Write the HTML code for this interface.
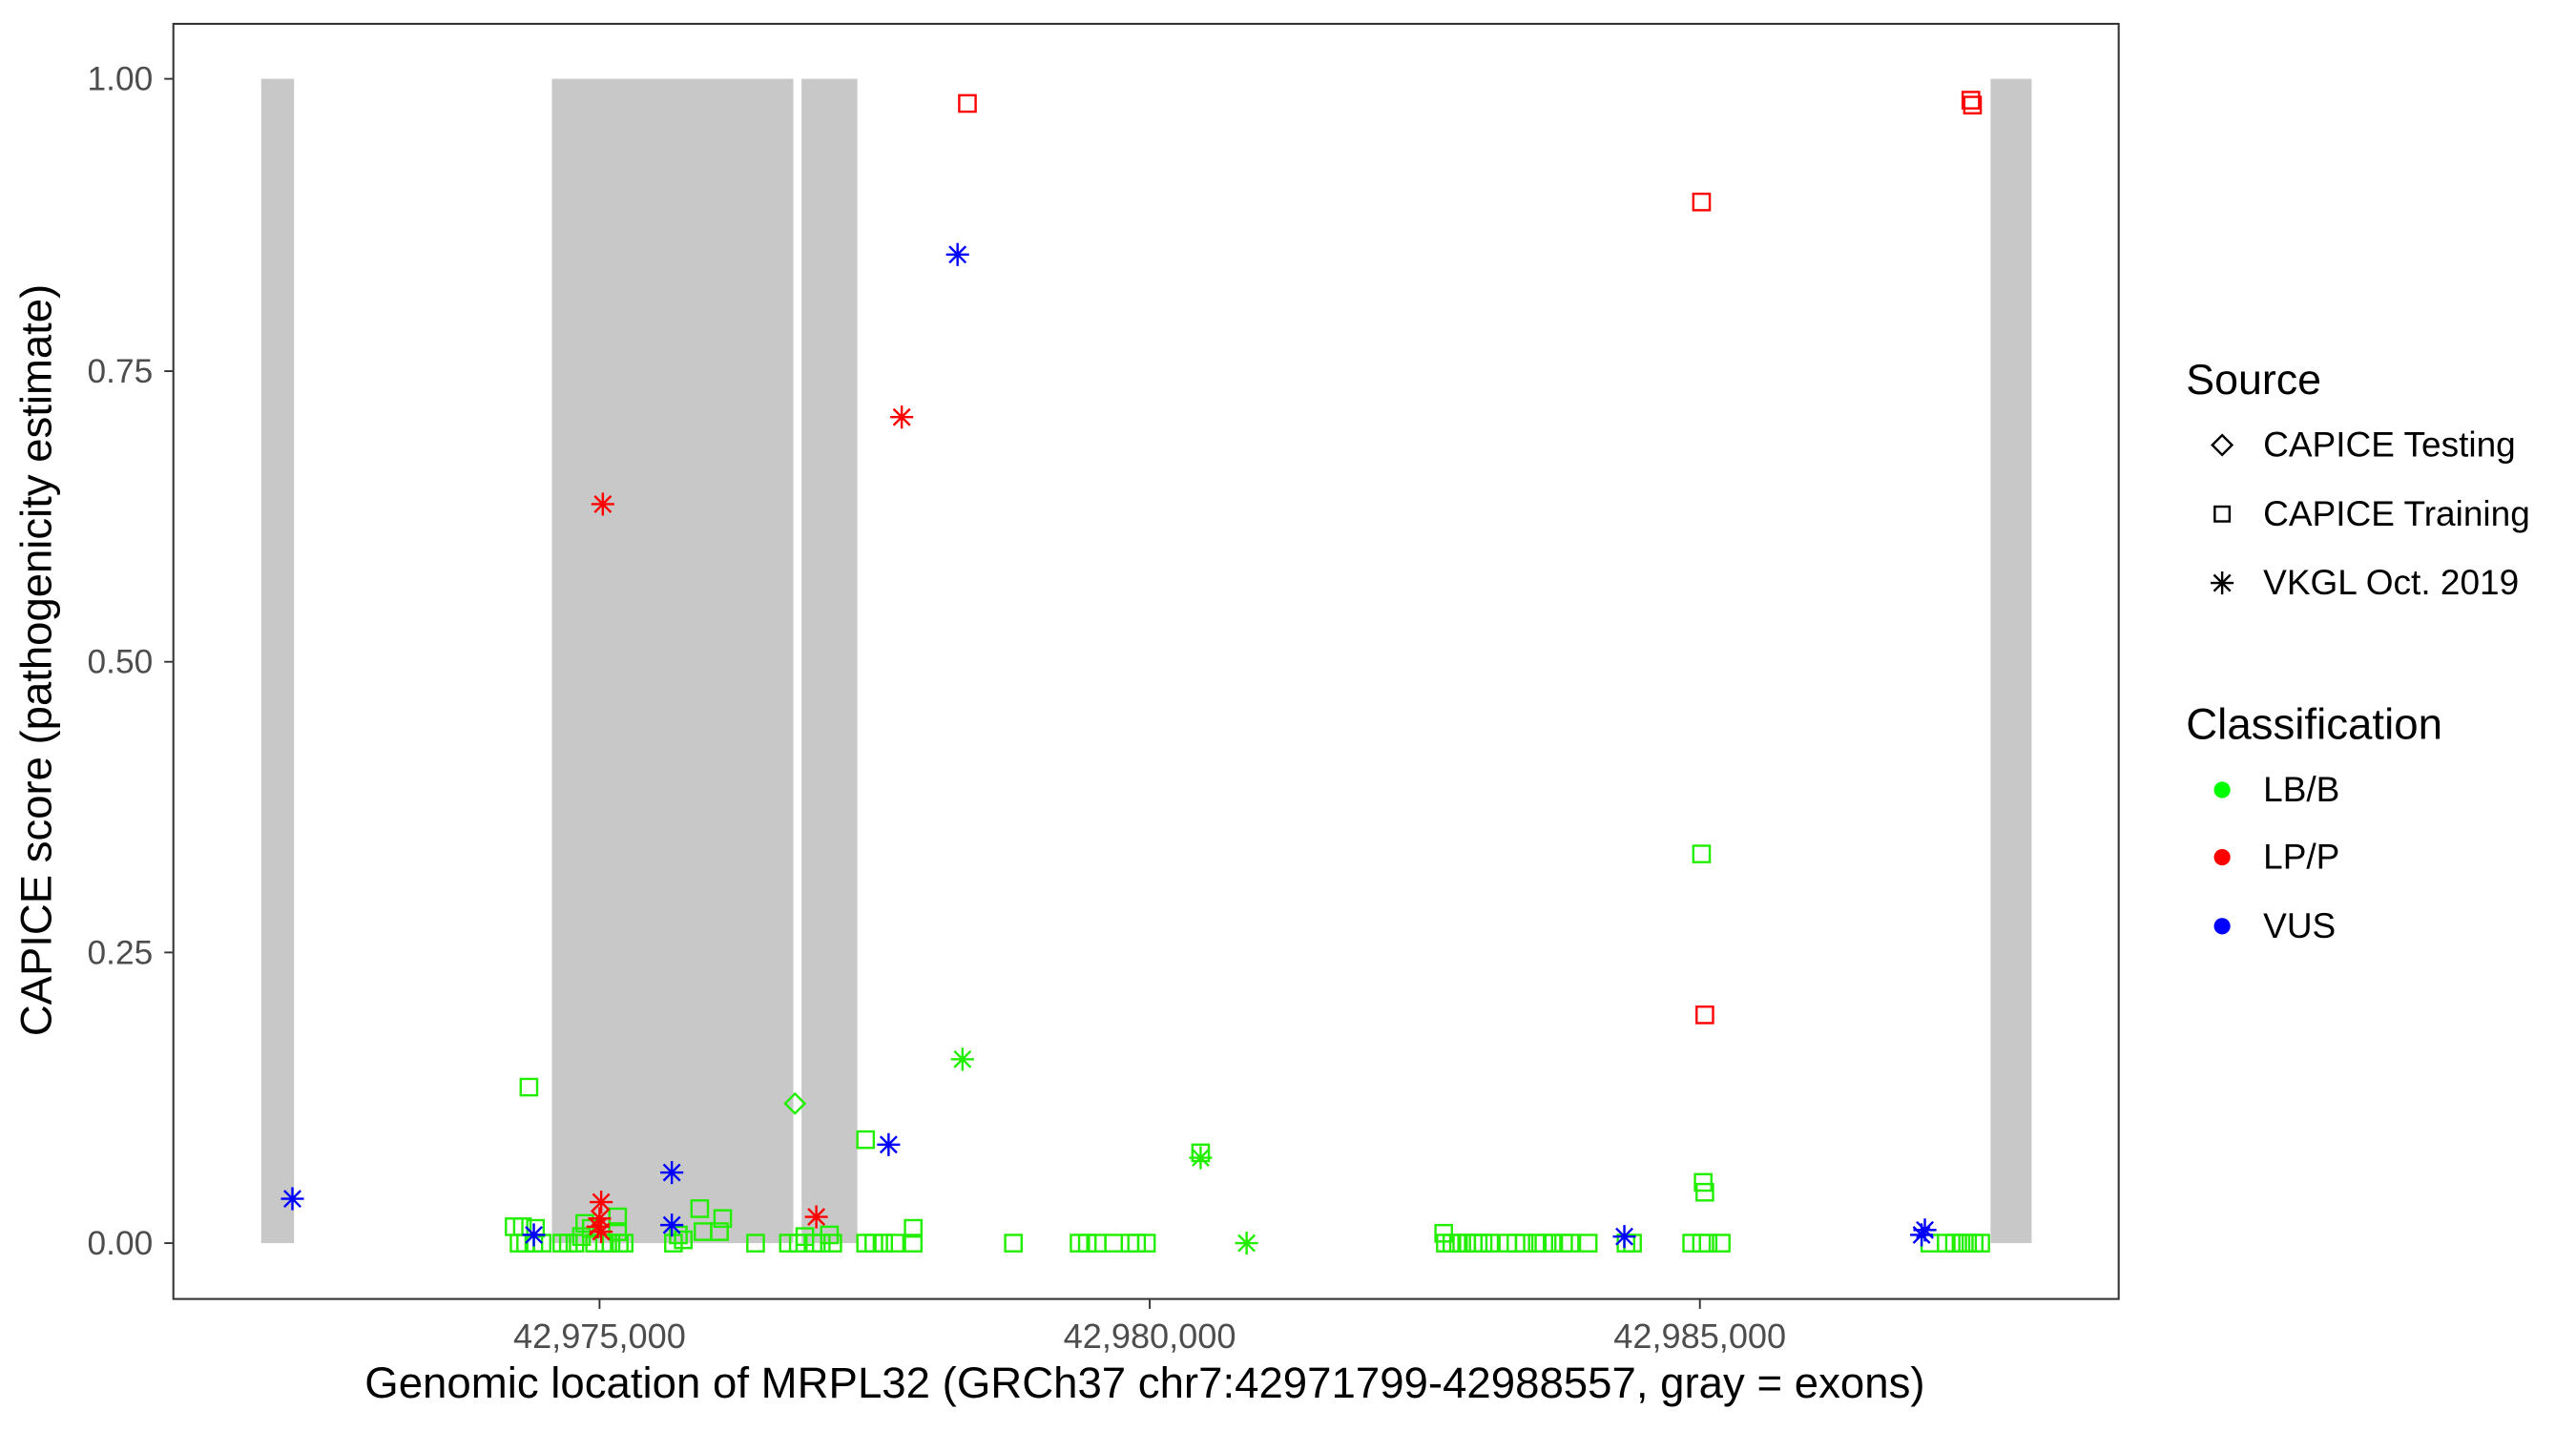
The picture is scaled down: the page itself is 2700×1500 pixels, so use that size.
<!DOCTYPE html>
<html><head><meta charset="utf-8"><style>html,body{margin:0;padding:0;background:#fff}svg{display:block}</style></head>
<body>
<svg id="s" width="2700" height="1500" viewBox="0 0 1568.4 871.4" xmlns="http://www.w3.org/2000/svg" font-family="Liberation Sans, Arial, sans-serif">
<rect x="0" y="0" width="1569" height="872" fill="#fff"/>
<g fill="#c8c8c8">
<rect x="159" y="48" width="20" height="709"/>
<rect x="336" y="48" width="147" height="709"/>
<rect x="488" y="48" width="34" height="709"/>
<rect x="1212" y="48" width="25" height="709"/>
</g>
<g id="pts" fill="none" stroke-width="1.4"></g>
<rect x="105.5" y="14.5" width="1184.5" height="776.5" fill="none" stroke="#333" stroke-width="1.2"/>
<g stroke="#333" stroke-width="1.1">
<line x1="100" x2="105" y1="48" y2="48"/><line x1="100" x2="105" y1="226" y2="226"/><line x1="100" x2="105" y1="403" y2="403"/><line x1="100" x2="105" y1="580" y2="580"/><line x1="100" x2="105" y1="757" y2="757"/>
<line x1="365" x2="365" y1="791" y2="797"/><line x1="700" x2="700" y1="791" y2="797"/><line x1="1035" x2="1035" y1="791" y2="797"/>
</g>
<g fill="#4d4d4d" font-size="20.5" text-anchor="end">
<text x="93" y="55">1.00</text><text x="93" y="233">0.75</text><text x="93" y="410">0.50</text><text x="93" y="587">0.25</text><text x="93" y="764">0.00</text>
</g>
<g fill="#4d4d4d" font-size="21" text-anchor="middle">
<text x="365" y="821">42,975,000</text><text x="700" y="821">42,980,000</text><text x="1035" y="821">42,985,000</text>
</g>
<text x="697" y="851" font-size="26.5" text-anchor="middle" fill="#000" textLength="950" lengthAdjust="spacingAndGlyphs">Genomic location of MRPL32 (GRCh37 chr7:42971799-42988557, gray = exons)</text>
<text transform="translate(31,402) rotate(-90)" font-size="26.5" text-anchor="middle" fill="#000" textLength="458" lengthAdjust="spacingAndGlyphs">CAPICE score (pathogenicity estimate)</text>
<text x="1331" y="240" font-size="26">Source</text>
<g font-size="21.5">
<text x="1378" y="278">CAPICE Testing</text>
<text x="1378" y="320">CAPICE Training</text>
<text x="1378" y="362">VKGL Oct. 2019</text>
</g>
<polygon points="1353,265 1359,271 1353,277 1347,271" fill="none" stroke="#000" stroke-width="1.4"/>
<rect x="1348.5" y="308.5" width="9" height="9" fill="none" stroke="#000" stroke-width="1.4"/>
<g stroke="#000" stroke-width="1.4"><line x1="1346" x2="1360" y1="355" y2="355"/><line x1="1353" x2="1353" y1="348" y2="362"/><line x1="1348" x2="1358" y1="350" y2="360"/><line x1="1348" x2="1358" y1="360" y2="350"/></g>
<text x="1331" y="450" font-size="26.5">Classification</text>
<g font-size="21.5"><text x="1378" y="488">LB/B</text><text x="1378" y="529">LP/P</text><text x="1378" y="571">VUS</text></g>
<circle cx="1353" cy="481" r="5" fill="#00ff00"/><circle cx="1353" cy="522" r="5" fill="#ff0000"/><circle cx="1353" cy="564" r="5" fill="#0000ff"/>
</svg>
<script>
var g=document.getElementById('pts'),NS='http://www.w3.org/2000/svg';
var G='#22ee00',R='#ff0000',B='#0000ff';
function sq(x,y,c){var e=document.createElementNS(NS,'rect');e.setAttribute('x',x-5);e.setAttribute('y',y-5);e.setAttribute('width',10);e.setAttribute('height',10);e.setAttribute('stroke',c);g.appendChild(e);}
function di(x,y,c){var e=document.createElementNS(NS,'polygon');e.setAttribute('points',(x)+','+(y-6)+' '+(x+6)+','+y+' '+x+','+(y+6)+' '+(x-6)+','+y);e.setAttribute('stroke',c);g.appendChild(e);}
function st(x,y,c){var p='M'+(x-7)+' '+y+'H'+(x+7)+'M'+x+' '+(y-7)+'V'+(y+7)+'M'+(x-5)+' '+(y-5)+'L'+(x+5)+' '+(y+5)+'M'+(x-5)+' '+(y+5)+'L'+(x+5)+' '+(y-5);var e=document.createElementNS(NS,'path');e.setAttribute('d',p);e.setAttribute('stroke',c);g.appendChild(e);}
var gs=[[322,662],[527,694],[731,702],[1036,520],[1037,720],[1038,726],[879,751],[313,747],[318,747],[326,748],[316,757],[320,757],[325,757],[330,757],[342,757],[346,757],[350,757],[354,753],[356,745],[360,748],[362,757],[368,757],[372,757],[376,741],[376,750],[377,757],[380,757],[410,757],[413,752],[416,755],[426,736],[428,750],[440,742],[438,750],[460,757],[480,757],[486,757],[490,753],[495,757],[500,757],[505,752],[507,757],[527,757],[532,757],[538,757],[545,757],[556,748],[556,757],[617,757],[657,757],[662,757],[668,757],[678,757],[688,757],[692,757],[698,757],[880,757],[884,757],[888,757],[893,757],[897,757],[900,757],[903,757],[907,757],[918,757],[923,757],[928,757],[936,757],[940,757],[945,757],[952,757],[956,757],[967,757],[990,757],[994,757],[1030,757],[1036,757],[1040,757],[1048,757],[1175,757],[1185,757],[1190,757],[1194,757],[1198,757],[1202,757],[1206,757]];
gs.forEach(function(p){sq(p[0],p[1],G);});
di(484,672,G);
[[589,63],[1036,123],[1038,618],[1200,61],[1201,64]].forEach(function(p){sq(p[0],p[1],R);});
[[586,645],[731,705],[759,757]].forEach(function(p){st(p[0],p[1],G);});
[[367,307],[549,254],[366,732],[365,742],[364,747],[366,750],[497,741]].forEach(function(p){st(p[0],p[1],R);});
[[178,730],[325,752],[409,714],[409,746],[541,697],[583,155],[989,753],[1170,752],[1172,749]].forEach(function(p){st(p[0],p[1],B);});
</script>
</body></html>
